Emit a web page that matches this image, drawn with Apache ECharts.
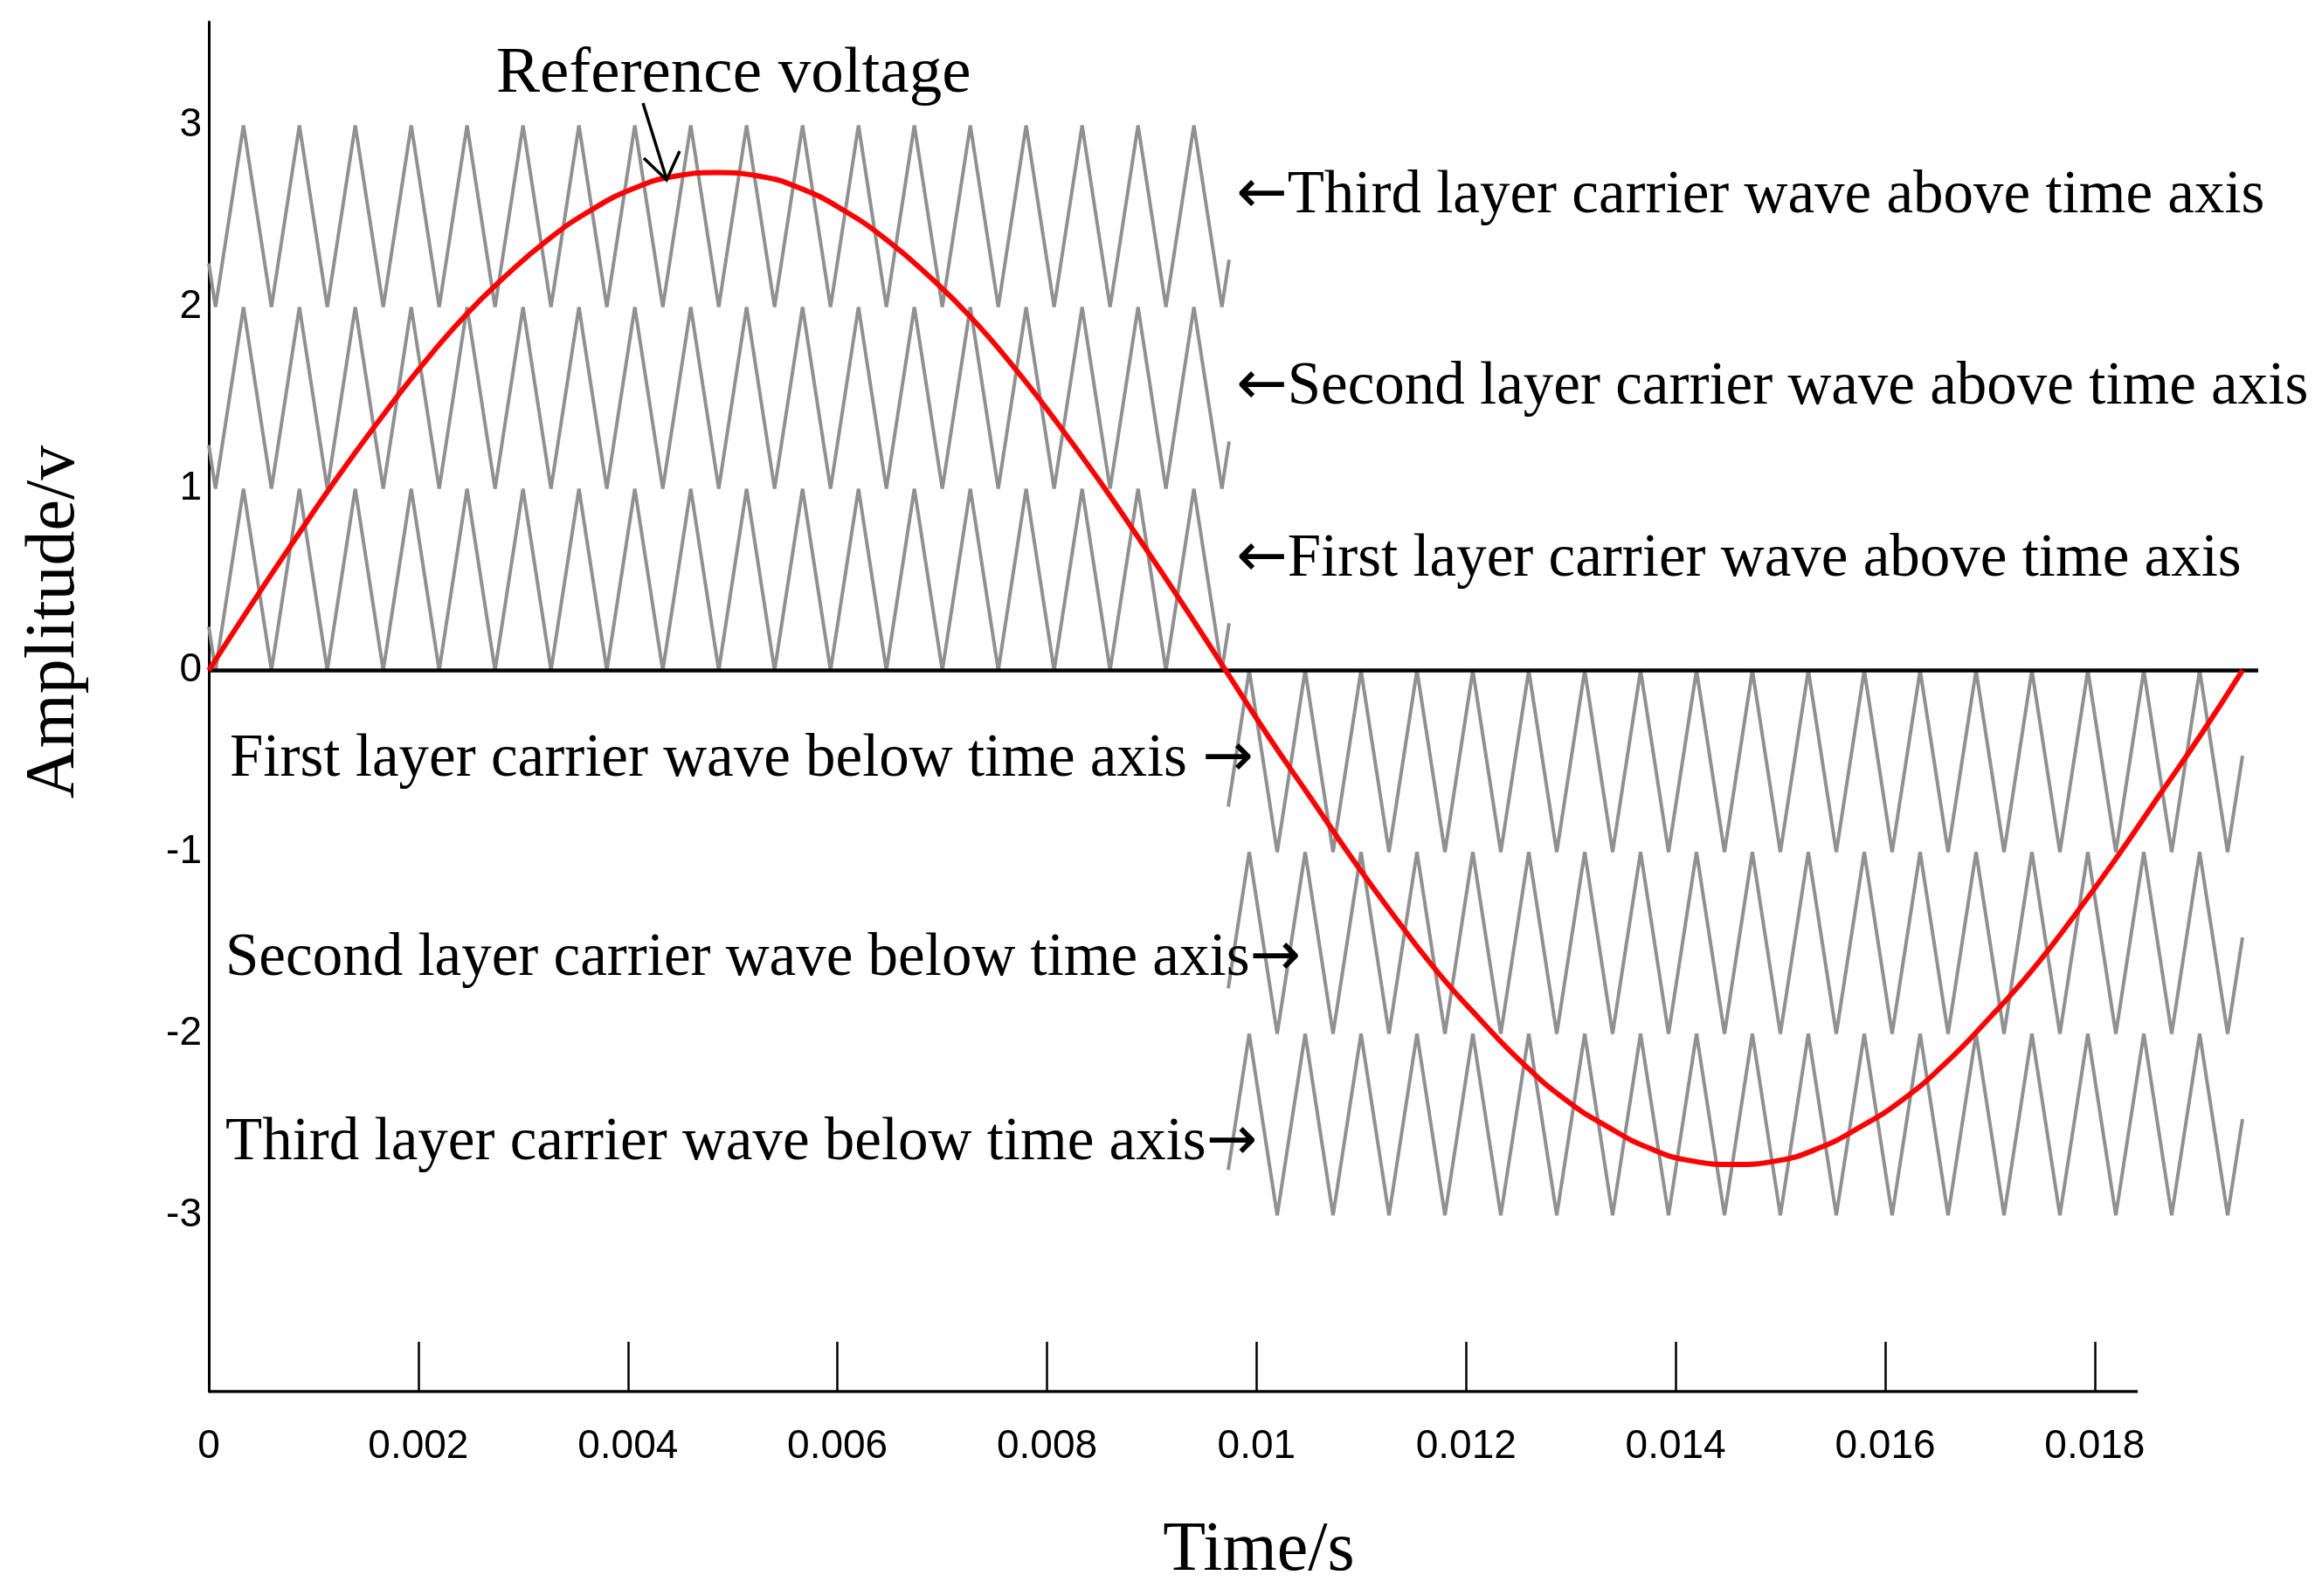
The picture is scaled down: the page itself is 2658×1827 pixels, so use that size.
<!DOCTYPE html>
<html><head><meta charset="utf-8">
<script src="https://cdn.jsdelivr.net/npm/echarts@6/dist/echarts.min.js"></script>
<style>html,body{margin:0;padding:0;background:#fff}#c{width:2658px;height:1827px}</style>
</head><body><div id="c"></div>
<script>
// ---- axis ticks / labels ----
const xTickValues = [0.002, 0.004, 0.006, 0.008, 0.010, 0.012, 0.014, 0.016, 0.018];
const xLabelValues = [0, 0.002, 0.004, 0.006, 0.008, 0.010, 0.012, 0.014, 0.016, 0.018];
const xLabelTexts = ['0', '0.002', '0.004', '0.006', '0.008', '0.01', '0.012', '0.014', '0.016', '0.018'];
const yTickValues = [-3, -2, -1, 0, 1, 2, 3];
const yTickLabels = ['-3', '-2', '-1', '0', '1', '2', '3'];

// ---- reference voltage ----
const refT = [0, 0.000404, 0.000809, 0.001213, 0.001618, 0.002022, 0.002426, 0.002831, 0.003235, 0.003639, 0.004044, 0.004448,
  0.004853, 0.005257, 0.005661, 0.006066, 0.006470, 0.006874, 0.007279, 0.007683, 0.008088, 0.008492, 0.008896, 0.009301,
  0.009705, 0.010109, 0.010514, 0.010918, 0.011323, 0.011727, 0.012131, 0.012536, 0.012940, 0.013344, 0.013749, 0.014153,
  0.014558, 0.014962, 0.015366, 0.015771, 0.016175, 0.016579, 0.016984, 0.017388, 0.017793, 0.018197, 0.018601, 0.019006, 0.019410];
const refV = [0, 0.36, 0.71, 1.05, 1.37, 1.67, 1.94, 2.17, 2.37, 2.53, 2.65, 2.72,
  2.74, 2.72, 2.65, 2.53, 2.37, 2.17, 1.94, 1.67, 1.37, 1.05, 0.71, 0.36,
  0, -0.36, -0.70, -1.04, -1.36, -1.66, -1.92, -2.16, -2.36, -2.51, -2.63, -2.70,
  -2.72, -2.70, -2.63, -2.51, -2.36, -2.16, -1.92, -1.66, -1.36, -1.04, -0.70, -0.36, 0];

// ---- carrier vertices above the time axis (level within one layer) ----
const upperCarrierT = [0, 0.0000642, 0.000331, 0.000598, 0.000865, 0.001131, 0.001398, 0.001665, 0.001932, 0.002199,
  0.002465, 0.002732, 0.002999, 0.003266, 0.003533, 0.003799, 0.004066, 0.004333, 0.004600, 0.004867,
  0.005133, 0.005400, 0.005667, 0.005934, 0.006201, 0.006467, 0.006734, 0.007001, 0.007268, 0.007535,
  0.007801, 0.008068, 0.008335, 0.008602, 0.008869, 0.009135, 0.009402, 0.009669, 0.009738];
const upperCarrierLevel = [0.24, 0, 1, 0, 1, 0, 1, 0, 1, 0,
  1, 0, 1, 0, 1, 0, 1, 0, 1, 0,
  1, 0, 1, 0, 1, 0, 1, 0, 1, 0,
  1, 0, 1, 0, 1, 0, 1, 0, 0.26];
const upperLayerOffsets = [0, 1, 2];

// ---- carrier vertices below the time axis ----
const lowerCarrierT = [0.009730, 0.009930, 0.010197, 0.010464, 0.010730, 0.010997, 0.011264, 0.011531, 0.011798, 0.012064,
  0.012331, 0.012598, 0.012865, 0.013132, 0.013398, 0.013665, 0.013932, 0.014199, 0.014466, 0.014732,
  0.014999, 0.015266, 0.015533, 0.015800, 0.016066, 0.016333, 0.016600, 0.016867, 0.017134, 0.017400,
  0.017667, 0.017934, 0.018201, 0.018468, 0.018734, 0.019001, 0.019268, 0.019410];
const lowerCarrierLevel = [-0.75, 0, -1, 0, -1, 0, -1, 0, -1, 0,
  -1, 0, -1, 0, -1, 0, -1, 0, -1, 0,
  -1, 0, -1, 0, -1, 0, -1, 0, -1, 0,
  -1, 0, -1, 0, -1, 0, -1, -0.47];
const lowerLayerOffsets = [0, -1, -2];

// ---- time axis (zero) line and bottom axis line extents ----
const zeroLineT = [0, 0.01956];
const zeroLineV = [0, 0];
const bottomLineT = [0, 0.01841];
const bottomLineV = [-3.97, -3.97];

const serif = '"Liberation Serif", "Times New Roman", serif';
const sans = '"Liberation Sans", Arial, sans-serif';

function pairs(ts, vs, off) { return ts.map((t, i) => [t, vs[i] + off]); }
function lineSeries(data, color, width, z, smooth) {
  return { type: 'line', data: data, symbol: 'none', z: z, smooth: !!smooth,
    lineStyle: { color: color, width: width }, animation: false, silent: true };
}

const series = [];
upperLayerOffsets.forEach(o => series.push(lineSeries(pairs(upperCarrierT, upperCarrierLevel, o), '#909090', 4, 2)));
lowerLayerOffsets.forEach(o => series.push(lineSeries(pairs(lowerCarrierT, lowerCarrierLevel, o), '#909090', 4, 2)));
series.push(lineSeries(pairs(zeroLineT, zeroLineV, 0), '#000', 4.5, 3));
series.push(lineSeries(pairs(bottomLineT, bottomLineV, 0), '#000', 3.5, 3));
series.push(lineSeries(pairs(refT, refV, 0), '#ff0000', 6, 4, true));

const arrowRich = { a: { font: '70px "DejaVu Sans"', fill: '#000' }, t: { font: '69px ' + serif, fill: '#000' } };
function txt(text, x, y, size, align, rot) {
  return { type: 'text', x: x, y: y, rotation: rot || 0, z: 10,
    style: { text: text, font: size + 'px ' + serif, fill: '#000', align: align || 'left', verticalAlign: 'middle', rich: arrowRich } };
}

const chart = echarts.init(document.getElementById('c'), null, { renderer: 'canvas' });
chart.setOption({
  backgroundColor: '#fff',
  animation: false,
  grid: { left: 239, right: 73, top: 25, bottom: 234, containLabel: false, outerBoundsMode: 'none' },
  xAxis: {
    type: 'value', min: 0, max: 0.01956,
    axisLine: { show: false, onZero: false },
    axisTick: { show: true, inside: true, length: 57, customValues: xTickValues, lineStyle: { color: '#000', width: 2.5 } },
    axisLabel: { customValues: xLabelValues, margin: 40, fontSize: 46, fontFamily: sans, color: '#000',
      formatter: v => { const i = xLabelValues.findIndex(a => Math.abs(a - v) < 1e-9); return i >= 0 ? xLabelTexts[i] : ''; } },
    splitLine: { show: false }
  },
  yAxis: {
    type: 'value', min: -3.97, max: 3.57,
    axisLine: { show: true, onZero: false, lineStyle: { color: '#000', width: 3 } },
    axisTick: { show: false },
    axisLabel: { customValues: yTickValues, margin: 8, fontSize: 46, fontFamily: sans, color: '#000',
      formatter: v => { const i = yTickValues.findIndex(a => Math.abs(a - v) < 1e-9); return i >= 0 ? yTickLabels[i] : ''; } },
    splitLine: { show: false }
  },
  series: series,
  graphic: [
    txt('Reference voltage', 568, 85, 75),
    { type: 'polyline', z: 10, shape: { points: [[736, 118], [763, 205]] }, style: { stroke: '#000', lineWidth: 3.5, fill: null } },
    { type: 'polyline', z: 10, shape: { points: [[737, 181], [763, 206], [778, 173]] }, style: { stroke: '#000', lineWidth: 3.5, fill: null } },
    txt('{a|\u2190}{t|Third layer carrier wave above time axis}', 1415, 225, 69),
    txt('{a|\u2190}{t|Second layer carrier wave above time axis}', 1415, 444, 69),
    txt('{a|\u2190}{t|First layer carrier wave above time axis}', 1415, 641, 69),
    txt('{t|First layer carrier wave below time axis }{a|\u2192}', 263, 870, 69),
    txt('{t|Second layer carrier wave below time axis}{a|\u2192}', 258, 1098, 69),
    txt('{t|Third layer carrier wave below time axis}{a|\u2192}', 258, 1309, 69),
    txt('Time/s', 1441, 1776, 80, 'center'),
    txt('Amplitude/v', 63, 712, 80, 'center', Math.PI / 2)
  ]
});
</script>
</body></html>
